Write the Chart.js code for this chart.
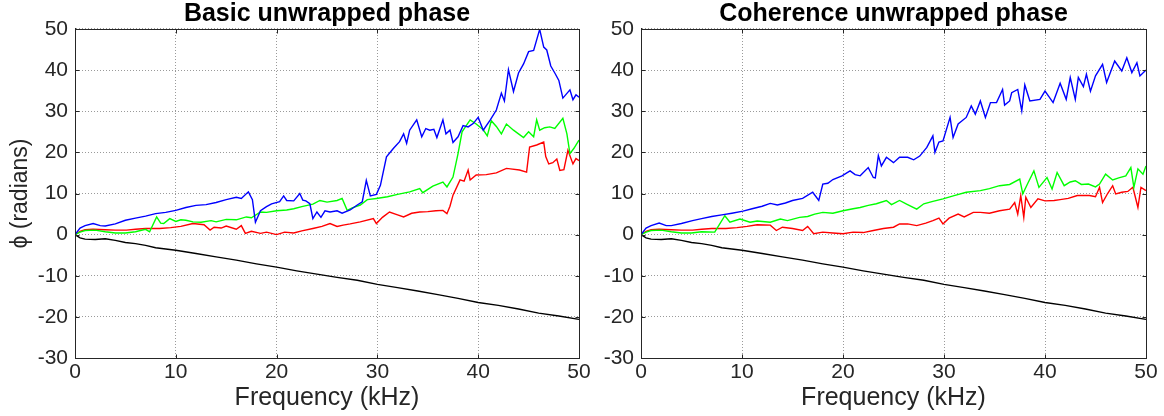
<!DOCTYPE html>
<html>
<head>
<meta charset="utf-8">
<script src="https://cdn.jsdelivr.net/npm/chart.js@4/dist/chart.umd.min.js"></script>
<style>
  body { margin: 0; background: #fff; width: 1164px; height: 416px; overflow: hidden; }
  canvas { position: absolute; top: 0; }
  #basic { left: 0; }
  #coh { left: 582px; }
</style>
</head>
<body>
<canvas id="basic" width="600" height="416"></canvas>
<canvas id="coh" width="582" height="416"></canvas>
<script>
// [frequency kHz, phase rad]
const black = [[0,0],[0.5,-0.8],[1,-1.1],[2,-1.2],[3,-1],[4,-1.4],[5,-1.9],[6,-2.2],[7,-2.6],[8,-3.2],[9,-3.5],[10,-3.8],[12,-4.6],[14,-5.4],[16,-6.2],[18,-7.1],[20,-7.9],[22,-8.8],[24,-9.6],[26,-10.4],[28,-11.1],[30,-12.1],[32,-12.9],[34,-13.7],[36,-14.6],[38,-15.5],[40,-16.5],[42,-17.2],[44,-18.1],[46,-19.1],[48,-19.8],[50,-20.6]];

const blueBasic = [[0,0],[0.5,1.6],[1,2.2],[1.8,2.7],[2.5,2.2],[3,2.1],[4,2.6],[5,3.5],[6,4],[7,4.5],[8,5.1],[9,5.4],[10,5.9],[11,6.6],[12,7.1],[13,7.3],[14,7.8],[15,8.5],[16,9.1],[16.5,8.8],[17.2,10.4],[17.6,8.5],[17.9,3],[18.4,5.8],[19,6.8],[19.5,7.5],[20.3,8],[20.7,9.4],[21,8.3],[21.7,8.2],[22.3,10],[22.6,8.4],[22.9,8.2],[23.3,7.5],[23.6,3.9],[24,5.5],[24.4,4.2],[24.8,5.8],[25.3,5.5],[26,5.8],[26.5,5.2],[27.3,6],[28,7.2],[28.5,8],[28.9,13.2],[29.3,9.4],[29.9,9.8],[30.3,12],[30.9,18.9],[31.6,21],[32.2,22.6],[32.6,24.5],[32.9,22.2],[33.2,25.4],[33.9,27.9],[34.4,23.8],[34.8,25.8],[35.2,25.4],[35.6,25.6],[35.9,23.6],[36.5,27.9],[36.8,24.5],[37.2,25.4],[37.5,22.4],[38,23.8],[38.5,26.5],[39,26.2],[39.5,27],[40,28.5],[40.5,25.4],[41.2,27.9],[41.8,30.3],[42.3,34.4],[42.6,32.5],[43,40.1],[43.5,34.8],[44,39.3],[44.5,41.5],[45,44.5],[45.5,44.8],[46.1,49.9],[46.5,45.6],[46.8,44.9],[47.2,41],[47.6,39.3],[48,37.5],[48.4,33.2],[49.1,35.2],[49.4,32.8],[49.7,34],[50,33.4]];
const greenBasic = [[0,0],[0.5,0.6],[1,1],[2,1.1],[3,0.7],[4,0.4],[5,0.4],[6,0.7],[7,1.3],[7.4,0.7],[8.1,4.3],[8.5,2.8],[8.8,2.7],[9.4,3.9],[10,3.2],[10.5,3.6],[11,3.5],[11.7,3.1],[12.5,3],[13.5,3.4],[14,3.1],[15,3.7],[16,3.6],[17,4.3],[17.5,4.1],[18.4,5.5],[19,5.4],[20,5.8],[21,6],[21.7,6.3],[22.5,6.8],[23.6,7.4],[24.3,8.3],[25,7.9],[26,8.3],[26.5,8.8],[27,5.9],[27.5,6.5],[28.3,7.2],[29,8.5],[29.9,8.8],[31,9.2],[32,9.8],[33.2,10.4],[34.2,11.2],[34.5,10.2],[35.5,11.8],[36.5,12.8],[36.9,11.6],[37.5,14],[38,19.7],[38.4,25],[39.2,27.9],[39.8,26.9],[40.5,25.5],[40.9,24],[41.3,27.7],[41.8,26.3],[42.3,24.5],[42.8,26.9],[43.5,25.4],[44,24.5],[44.5,23.6],[45,25],[45.5,23.8],[45.8,27.9],[46.1,25.4],[46.6,26],[47.1,26.2],[47.6,25.8],[48.4,28.3],[48.8,24.5],[49.1,19.7],[49.5,21],[49.8,22.2],[50,23]];
const redBasic = [[0,0],[0.5,0.8],[1,1.2],[1.8,1.3],[3,1.2],[4,1.1],[5.1,1.1],[6,1.3],[7,1.5],[8.4,1.5],[9.5,1.7],[10.5,2],[11.7,2.7],[12.8,2.4],[13.4,1.1],[13.8,1.8],[14.5,1.6],[15,2.1],[16,1.3],[16.5,2.2],[16.9,0.3],[17.5,0.8],[18.4,0.3],[19,0.6],[20,0],[20.8,0.6],[21.7,0.4],[22.5,0.9],[23.6,1.5],[24.5,2],[25.3,2.7],[26,2],[26.6,2.3],[27.3,2.6],[28.3,3.1],[29.6,3.9],[29.9,2.7],[30.5,4.2],[31.2,5.5],[32,4.8],[32.6,4.3],[33.4,5.2],[34.2,5.5],[35,5.6],[35.8,5.8],[36.5,5.9],[36.9,5.1],[37.2,6.9],[37.5,9.6],[38.2,13.3],[38.6,13],[39,15.7],[39.2,13.3],[39.8,14.5],[40.8,14.6],[41.8,15],[42.8,16.1],[43.2,16],[44.1,15.7],[44.8,15.2],[45.1,21.3],[45.8,21.8],[46.5,22.5],[46.7,19],[47,17.2],[47.4,17.5],[47.8,18.4],[48.1,15.6],[48.5,15.8],[48.9,20.5],[49.4,17.2],[49.7,18.5],[50,18]];

const blueCoh = [[0,0],[0.5,1.6],[1,2.2],[1.8,2.8],[2.5,2.2],[3,2.2],[4,2.7],[5.1,3.4],[6,3.9],[7,4.4],[8,4.8],[9,5.2],[10.1,5.7],[11,6.3],[12,6.9],[12.8,7.6],[13.5,7.2],[14.3,7.7],[15,8.3],[16,8.8],[17,10.3],[17.6,8.3],[18,12.3],[18.5,12.5],[19,13.4],[19.9,14.3],[20.7,15.5],[21.2,14.6],[21.7,14.3],[22.5,16.3],[23,13.9],[23.2,13.8],[23.5,19.2],[23.8,16.7],[24.3,18.8],[25,17.5],[25.6,18.8],[26.4,18.8],[27,18.2],[27.6,19.1],[28.3,21.2],[28.9,24],[29.1,20],[29.5,22.5],[29.9,22.8],[30.6,28.5],[30.9,23.6],[31.4,26.9],[32.2,28.5],[32.7,31.3],[33.1,29.3],[33.6,32.5],[34.1,28.5],[34.6,32.1],[35.2,32.1],[35.8,35.3],[36,31.5],[36.5,32.5],[36.7,34.5],[37.3,35.3],[37.7,30.1],[38,36.4],[38.5,32.5],[39.5,32.9],[40,34.9],[40.8,32.1],[41.5,36.8],[42.1,32.9],[42.5,38.2],[43,32.9],[43.3,38.2],[43.8,36],[44.1,39],[44.5,34.9],[45,38.6],[45.7,41.4],[46.1,37],[46.9,42.2],[47.6,39.8],[48.1,43],[48.6,39.4],[49.1,41.8],[49.4,38.6],[50,40]];
const greenCoh = [[0,0],[0.5,0.6],[1,1],[2,1.1],[3,0.7],[4,0.4],[5,0.4],[6,0.7],[7.3,0.6],[8.3,4.6],[8.8,3],[9.8,3.8],[10.8,3],[11.5,3.3],[12.8,3],[13.8,3.8],[14.5,3.4],[15.7,4.2],[16.5,4.4],[17.2,5],[18,5.4],[19,5.2],[20,5.8],[21,6.3],[21.7,6.6],[22.5,7.1],[23.3,7.5],[24.3,8.3],[24.8,7.3],[25.6,8.3],[26.3,7.4],[27.3,6.2],[28,7.5],[28.9,8.1],[29.9,8.7],[31,9.5],[32.2,10.3],[33.6,10.7],[34.5,11.2],[35.5,11.9],[36.5,12.2],[37.5,13.5],[37.8,9.9],[38.3,12.5],[38.9,15.5],[39.4,11.5],[40.2,13.9],[40.7,11.1],[41.2,15.1],[41.9,11.9],[42.5,12.8],[43,13.1],[43.6,12.2],[44.3,12.3],[45,11.6],[45.4,12.3],[46,14.7],[46.7,13.3],[47.3,13.8],[48,14.3],[48.5,16.3],[48.8,11.5],[49.2,16],[49.7,14.7],[50,16.7]];
const redCoh = [[0,0],[0.5,0.8],[1,1.2],[1.8,1.3],[3,1.2],[4,1.1],[5.1,1.1],[6,1.3],[7,1.5],[8.4,1.5],[9.5,1.7],[10.5,2],[11.5,2.4],[12.8,2.3],[13.4,1],[14,1.8],[15,1.5],[16,1],[16.5,2],[17.1,0.2],[18,0.6],[19,0.4],[20,0.2],[21,0.6],[22,0.5],[23,1],[24,1.5],[25,1.8],[25.6,2.6],[26.4,2.6],[27.3,2.2],[28.2,2.8],[28.9,3.4],[29.5,4],[29.9,2.6],[30.5,4],[31.4,5],[32,4.3],[32.9,5.4],[33.6,5.4],[34.5,5.2],[35.5,5.8],[36.5,6.2],[37,7.8],[37.3,5],[37.6,9.5],[37.9,4.2],[38.1,9.1],[38.6,6.6],[39.3,8.7],[40,8.2],[40.9,8.3],[41.5,8.5],[42.3,8.8],[43.2,9.5],[44.4,9.5],[45,9.2],[45.4,11.5],[45.7,7.8],[46.2,10],[46.7,11.9],[47,9.9],[47.6,10.3],[48.2,10.5],[48.7,11.5],[49.2,6.6],[49.5,11.5],[50,10.7]];

const FONT = "'Liberation Sans', Arial, Helvetica, sans-serif";
const INK = '#262626';

// box round the plot plus small inward ticks, like the original figure
const frame = {
  id: 'frame',
  afterDraw(chart) {
    const a = chart.chartArea, c = chart.ctx;
    const L = Math.round(a.left) + 0.5, T = Math.round(a.top) + 0.5;
    const R = Math.round(a.right) + 0.5, B = Math.round(a.bottom) + 0.5;
    c.save();
    c.strokeStyle = INK;
    c.lineWidth = 1;
    c.strokeRect(L, T, R - L, B - T);
    c.beginPath();
    chart.scales.x.ticks.forEach(t => {
      const x = Math.round(chart.scales.x.getPixelForValue(t.value)) + 0.5;
      c.moveTo(x, B); c.lineTo(x, B - 4);
      c.moveTo(x, T); c.lineTo(x, T + 4);
    });
    chart.scales.y.ticks.forEach(t => {
      const y = Math.round(chart.scales.y.getPixelForValue(t.value)) + 0.5;
      c.moveTo(L, y); c.lineTo(L + 4, y);
      c.moveTo(R, y); c.lineTo(R - 4, y);
    });
    c.stroke();
    c.restore();
  }
};

function series(pts, color) {
  return {
    data: pts.map(p => ({ x: p[0], y: p[1] })),
    borderColor: color,
    borderWidth: 1.4,
    pointRadius: 0,
    tension: 0,
    fill: false
  };
}

function makeChart(id, title, sets, yTitle, yWidth, padRight) {
  new Chart(document.getElementById(id), {
    type: 'line',
    data: {
      datasets: [
        series(sets[0], '#0000ff'),
        series(sets[1], '#00ff00'),
        series(sets[2], '#ff0000'),
        series(black, '#000000')
      ]
    },
    options: {
      responsive: false,
      animation: false,
      devicePixelRatio: 1,
      layout: { padding: { left: 0, right: padRight, top: 0, bottom: 0 } },
      plugins: {
        legend: { display: false },
        tooltip: { enabled: false },
        title: {
          display: true,
          fullSize: false,
          text: title,
          color: '#000',
          font: { family: FONT, size: 25, weight: 'bold', lineHeight: 1.16 },
          padding: { top: 0, bottom: 0 }
        }
      },
      scales: {
        x: {
          type: 'linear',
          min: 0, max: 50,
          ticks: { stepSize: 10, color: INK, font: { family: FONT, size: 21 }, padding: 2, maxRotation: 0 },
          grid: { color: '#9a9a9a', drawTicks: false },
          border: { display: true, color: INK, dash: [1, 2] },
          title: { display: true, text: 'Frequency (kHz)', color: INK, font: { family: FONT, size: 25 }, padding: { top: 0, bottom: 3 } },
          afterFit(s) { s.height = 58; }
        },
        y: {
          min: -30, max: 50,
          ticks: { stepSize: 10, color: INK, font: { family: FONT, size: 21 }, padding: 7 },
          grid: { color: '#9a9a9a', drawTicks: false },
          border: { display: true, color: INK, dash: [1, 2] },
          title: { display: !!yTitle, text: yTitle, color: INK, font: { family: FONT, size: 23 }, padding: { top: 7, bottom: 0 } },
          afterFit(s) { s.width = yWidth; }
        }
      }
    },
    plugins: [frame]
  });
}

makeChart('basic', 'Basic unwrapped phase', [blueBasic, greenBasic, redBasic], 'ϕ (radians)', 75, 21);
makeChart('coh', 'Coherence unwrapped phase', [blueCoh, greenCoh, redCoh], '', 59, 18);
</script>
</body>
</html>
